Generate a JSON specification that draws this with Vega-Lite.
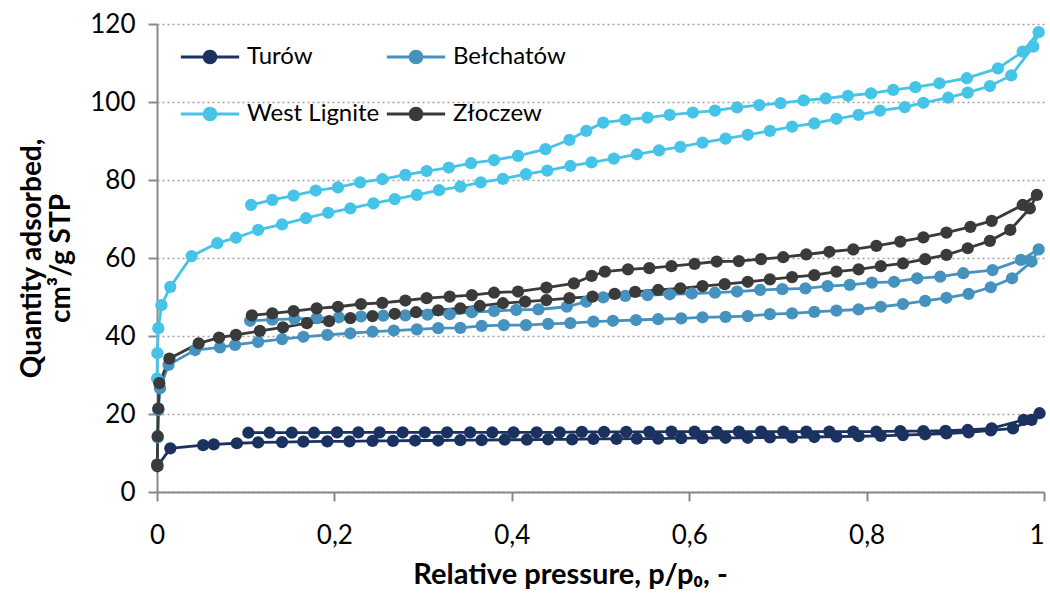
{
  "$schema": "https://vega.github.io/schema/vega-lite/v6.json",
  "autosize": {"type": "none"},
  "width": 887,
  "height": 468,
  "padding": {"left": 157, "top": 24, "right": 6, "bottom": 101},
  "background": "white",
  "config": {
    "view": {"stroke": null},
    "font": "Lato"
  },
  "datasets": {
    "raw": [
      {"s":"Turów","i":1,"x":0.0005,"y":6.6},{"s":"Turów","i":2,"x":0.015,"y":11.2},{"s":"Turów","i":3,"x":0.052,"y":12.0},{"s":"Turów","i":4,"x":0.064,"y":12.2},{"s":"Turów","i":5,"x":0.09,"y":12.5},{"s":"Turów","i":6,"x":0.114,"y":12.7},{"s":"Turów","i":7,"x":0.141,"y":12.8},{"s":"Turów","i":8,"x":0.165,"y":12.9},{"s":"Turów","i":9,"x":0.192,"y":13.0},{"s":"Turów","i":10,"x":0.217,"y":13.0},{"s":"Turów","i":11,"x":0.243,"y":13.1},{"s":"Turów","i":12,"x":0.266,"y":13.1},{"s":"Turów","i":13,"x":0.291,"y":13.2},{"s":"Turów","i":14,"x":0.317,"y":13.2},{"s":"Turów","i":15,"x":0.342,"y":13.3},{"s":"Turów","i":16,"x":0.366,"y":13.3},{"s":"Turów","i":17,"x":0.392,"y":13.4},{"s":"Turów","i":18,"x":0.417,"y":13.4},{"s":"Turów","i":19,"x":0.441,"y":13.5},{"s":"Turów","i":20,"x":0.468,"y":13.5},{"s":"Turów","i":21,"x":0.492,"y":13.6},{"s":"Turów","i":22,"x":0.518,"y":13.6},{"s":"Turów","i":23,"x":0.541,"y":13.7},{"s":"Turów","i":24,"x":0.565,"y":13.7},{"s":"Turów","i":25,"x":0.591,"y":13.8},{"s":"Turów","i":26,"x":0.615,"y":13.8},{"s":"Turów","i":27,"x":0.641,"y":13.9},{"s":"Turów","i":28,"x":0.666,"y":13.9},{"s":"Turów","i":29,"x":0.691,"y":14.0},{"s":"Turów","i":30,"x":0.716,"y":14.0},{"s":"Turów","i":31,"x":0.741,"y":14.1},{"s":"Turów","i":32,"x":0.766,"y":14.2},{"s":"Turów","i":33,"x":0.791,"y":14.3},{"s":"Turów","i":34,"x":0.816,"y":14.4},{"s":"Turów","i":35,"x":0.841,"y":14.6},{"s":"Turów","i":36,"x":0.866,"y":14.8},{"s":"Turów","i":37,"x":0.890,"y":15.0},{"s":"Turów","i":38,"x":0.915,"y":15.3},{"s":"Turów","i":39,"x":0.940,"y":15.8},{"s":"Turów","i":40,"x":0.965,"y":16.3},{"s":"Turów","i":41,"x":0.986,"y":18.5},{"s":"Turów","i":42,"x":0.995,"y":20.2},
      {"s":"Turów","i":43,"x":0.977,"y":18.5},{"s":"Turów","i":44,"x":0.941,"y":16.3},{"s":"Turów","i":45,"x":0.914,"y":15.9},{"s":"Turów","i":46,"x":0.889,"y":15.7},{"s":"Turów","i":47,"x":0.864,"y":15.6},{"s":"Turów","i":48,"x":0.838,"y":15.6},{"s":"Turów","i":49,"x":0.811,"y":15.5},{"s":"Turów","i":50,"x":0.785,"y":15.5},{"s":"Turów","i":51,"x":0.758,"y":15.5},{"s":"Turów","i":52,"x":0.732,"y":15.5},{"s":"Turów","i":53,"x":0.706,"y":15.5},{"s":"Turów","i":54,"x":0.681,"y":15.5},{"s":"Turów","i":55,"x":0.656,"y":15.5},{"s":"Turów","i":56,"x":0.631,"y":15.5},{"s":"Turów","i":57,"x":0.606,"y":15.5},{"s":"Turów","i":58,"x":0.580,"y":15.5},{"s":"Turów","i":59,"x":0.555,"y":15.4},{"s":"Turów","i":60,"x":0.529,"y":15.4},{"s":"Turów","i":61,"x":0.504,"y":15.4},{"s":"Turów","i":62,"x":0.479,"y":15.4},{"s":"Turów","i":63,"x":0.454,"y":15.3},{"s":"Turów","i":64,"x":0.428,"y":15.3},{"s":"Turów","i":65,"x":0.402,"y":15.3},{"s":"Turów","i":66,"x":0.378,"y":15.3},{"s":"Turów","i":67,"x":0.353,"y":15.3},{"s":"Turów","i":68,"x":0.327,"y":15.3},{"s":"Turów","i":69,"x":0.302,"y":15.3},{"s":"Turów","i":70,"x":0.277,"y":15.3},{"s":"Turów","i":71,"x":0.251,"y":15.3},{"s":"Turów","i":72,"x":0.227,"y":15.3},{"s":"Turów","i":73,"x":0.203,"y":15.3},{"s":"Turów","i":74,"x":0.177,"y":15.2},{"s":"Turów","i":75,"x":0.152,"y":15.2},{"s":"Turów","i":76,"x":0.127,"y":15.2},{"s":"Turów","i":77,"x":0.103,"y":15.2},

      {"s":"Bełchatów","i":1,"x":0.0003,"y":7.0},{"s":"Bełchatów","i":2,"x":0.0008,"y":14.0},{"s":"Bełchatów","i":3,"x":0.0015,"y":21.0},{"s":"Bełchatów","i":4,"x":0.0034,"y":26.6},{"s":"Bełchatów","i":5,"x":0.013,"y":32.6},{"s":"Bełchatów","i":6,"x":0.043,"y":36.4},{"s":"Bełchatów","i":7,"x":0.071,"y":37.1},{"s":"Bełchatów","i":8,"x":0.088,"y":37.7},{"s":"Bełchatów","i":9,"x":0.114,"y":38.5},{"s":"Bełchatów","i":10,"x":0.141,"y":39.2},{"s":"Bełchatów","i":11,"x":0.165,"y":39.8},{"s":"Bełchatów","i":12,"x":0.192,"y":40.3},{"s":"Bełchatów","i":13,"x":0.218,"y":40.7},{"s":"Bełchatów","i":14,"x":0.243,"y":41.1},{"s":"Bełchatów","i":15,"x":0.267,"y":41.4},{"s":"Bełchatów","i":16,"x":0.293,"y":41.7},{"s":"Bełchatów","i":17,"x":0.317,"y":42.0},{"s":"Bełchatów","i":18,"x":0.342,"y":42.1},{"s":"Bełchatów","i":19,"x":0.366,"y":42.6},{"s":"Bełchatów","i":20,"x":0.391,"y":42.8},{"s":"Bełchatów","i":21,"x":0.416,"y":42.8},{"s":"Bełchatów","i":22,"x":0.441,"y":43.1},{"s":"Bełchatów","i":23,"x":0.466,"y":43.3},{"s":"Bełchatów","i":24,"x":0.492,"y":43.7},{"s":"Bełchatów","i":25,"x":0.514,"y":43.9},{"s":"Bełchatów","i":26,"x":0.540,"y":44.1},{"s":"Bełchatów","i":27,"x":0.565,"y":44.3},{"s":"Bełchatów","i":28,"x":0.591,"y":44.5},{"s":"Bełchatów","i":29,"x":0.615,"y":44.8},{"s":"Bełchatów","i":30,"x":0.641,"y":44.9},{"s":"Bełchatów","i":31,"x":0.666,"y":45.1},{"s":"Bełchatów","i":32,"x":0.691,"y":45.6},{"s":"Bełchatów","i":33,"x":0.716,"y":45.8},{"s":"Bełchatów","i":34,"x":0.741,"y":46.2},{"s":"Bełchatów","i":35,"x":0.766,"y":46.5},{"s":"Bełchatów","i":36,"x":0.791,"y":46.8},{"s":"Bełchatów","i":37,"x":0.816,"y":47.5},{"s":"Bełchatów","i":38,"x":0.841,"y":48.2},{"s":"Bełchatów","i":39,"x":0.866,"y":49.0},{"s":"Bełchatów","i":40,"x":0.890,"y":49.8},{"s":"Bełchatów","i":41,"x":0.915,"y":50.8},{"s":"Bełchatów","i":42,"x":0.940,"y":52.5},{"s":"Bełchatów","i":43,"x":0.964,"y":54.8},{"s":"Bełchatów","i":44,"x":0.986,"y":59.1},{"s":"Bełchatów","i":45,"x":0.994,"y":62.2},
      {"s":"Bełchatów","i":46,"x":0.974,"y":59.5},{"s":"Bełchatów","i":47,"x":0.942,"y":56.9},{"s":"Bełchatów","i":48,"x":0.909,"y":56.1},{"s":"Bełchatów","i":49,"x":0.883,"y":55.2},{"s":"Bełchatów","i":50,"x":0.857,"y":54.8},{"s":"Bełchatów","i":51,"x":0.831,"y":53.9},{"s":"Bełchatów","i":52,"x":0.806,"y":53.7},{"s":"Bełchatów","i":53,"x":0.781,"y":53.1},{"s":"Bełchatów","i":54,"x":0.756,"y":52.8},{"s":"Bełchatów","i":55,"x":0.731,"y":52.2},{"s":"Bełchatów","i":56,"x":0.705,"y":52.0},{"s":"Bełchatów","i":57,"x":0.680,"y":51.8},{"s":"Bełchatów","i":58,"x":0.654,"y":51.4},{"s":"Bełchatów","i":59,"x":0.629,"y":51.1},{"s":"Bełchatów","i":60,"x":0.603,"y":50.9},{"s":"Bełchatów","i":61,"x":0.578,"y":50.7},{"s":"Bełchatów","i":62,"x":0.553,"y":50.5},{"s":"Bełchatów","i":63,"x":0.528,"y":50.3},{"s":"Bełchatów","i":64,"x":0.503,"y":49.9},{"s":"Bełchatów","i":65,"x":0.484,"y":48.8},{"s":"Bełchatów","i":66,"x":0.462,"y":47.5},{"s":"Bełchatów","i":67,"x":0.43,"y":46.8},{"s":"Bełchatów","i":68,"x":0.405,"y":46.7},{"s":"Bełchatów","i":69,"x":0.38,"y":46.4},{"s":"Bełchatów","i":70,"x":0.355,"y":46.1},{"s":"Bełchatów","i":71,"x":0.33,"y":45.6},{"s":"Bełchatów","i":72,"x":0.305,"y":45.5},{"s":"Bełchatów","i":73,"x":0.28,"y":45.3},{"s":"Bełchatów","i":74,"x":0.255,"y":45.2},{"s":"Bełchatów","i":75,"x":0.23,"y":45.0},{"s":"Bełchatów","i":76,"x":0.205,"y":44.8},{"s":"Bełchatów","i":77,"x":0.18,"y":44.6},{"s":"Bełchatów","i":78,"x":0.155,"y":44.4},{"s":"Bełchatów","i":79,"x":0.13,"y":44.2},{"s":"Bełchatów","i":80,"x":0.105,"y":43.9},

      {"s":"West Lignite","i":1,"x":0.0001,"y":29.1},{"s":"West Lignite","i":2,"x":0.0004,"y":35.6},{"s":"West Lignite","i":3,"x":0.0015,"y":42.0},{"s":"West Lignite","i":4,"x":0.005,"y":47.9},{"s":"West Lignite","i":5,"x":0.015,"y":52.6},{"s":"West Lignite","i":6,"x":0.039,"y":60.5},{"s":"West Lignite","i":7,"x":0.068,"y":63.8},{"s":"West Lignite","i":8,"x":0.089,"y":65.2},{"s":"West Lignite","i":9,"x":0.114,"y":67.2},{"s":"West Lignite","i":10,"x":0.141,"y":68.6},{"s":"West Lignite","i":11,"x":0.168,"y":70.2},{"s":"West Lignite","i":12,"x":0.193,"y":71.6},{"s":"West Lignite","i":13,"x":0.218,"y":72.7},{"s":"West Lignite","i":14,"x":0.244,"y":74.0},{"s":"West Lignite","i":15,"x":0.268,"y":75.1},{"s":"West Lignite","i":16,"x":0.293,"y":76.2},{"s":"West Lignite","i":17,"x":0.318,"y":77.4},{"s":"West Lignite","i":18,"x":0.342,"y":78.3},{"s":"West Lignite","i":19,"x":0.365,"y":79.4},{"s":"West Lignite","i":20,"x":0.390,"y":80.3},{"s":"West Lignite","i":21,"x":0.416,"y":81.5},{"s":"West Lignite","i":22,"x":0.440,"y":82.4},{"s":"West Lignite","i":23,"x":0.466,"y":83.6},{"s":"West Lignite","i":24,"x":0.490,"y":84.5},{"s":"West Lignite","i":25,"x":0.515,"y":85.5},{"s":"West Lignite","i":26,"x":0.541,"y":86.6},{"s":"West Lignite","i":27,"x":0.566,"y":87.6},{"s":"West Lignite","i":28,"x":0.590,"y":88.5},{"s":"West Lignite","i":29,"x":0.615,"y":89.6},{"s":"West Lignite","i":30,"x":0.641,"y":90.6},{"s":"West Lignite","i":31,"x":0.666,"y":91.6},{"s":"West Lignite","i":32,"x":0.691,"y":92.6},{"s":"West Lignite","i":33,"x":0.716,"y":93.7},{"s":"West Lignite","i":34,"x":0.741,"y":94.5},{"s":"West Lignite","i":35,"x":0.766,"y":95.7},{"s":"West Lignite","i":36,"x":0.791,"y":96.7},{"s":"West Lignite","i":37,"x":0.815,"y":97.8},{"s":"West Lignite","i":38,"x":0.843,"y":98.7},{"s":"West Lignite","i":39,"x":0.864,"y":99.8},{"s":"West Lignite","i":40,"x":0.892,"y":101.1},{"s":"West Lignite","i":41,"x":0.914,"y":102.4},{"s":"West Lignite","i":42,"x":0.939,"y":104.1},{"s":"West Lignite","i":43,"x":0.963,"y":106.8},{"s":"West Lignite","i":44,"x":0.988,"y":114.2},{"s":"West Lignite","i":45,"x":0.994,"y":117.9},
      {"s":"West Lignite","i":46,"x":0.976,"y":112.9},{"s":"West Lignite","i":47,"x":0.948,"y":108.6},{"s":"West Lignite","i":48,"x":0.913,"y":106.1},{"s":"West Lignite","i":49,"x":0.882,"y":104.8},{"s":"West Lignite","i":50,"x":0.855,"y":103.8},{"s":"West Lignite","i":51,"x":0.830,"y":103.1},{"s":"West Lignite","i":52,"x":0.805,"y":102.2},{"s":"West Lignite","i":53,"x":0.779,"y":101.6},{"s":"West Lignite","i":54,"x":0.754,"y":100.9},{"s":"West Lignite","i":55,"x":0.729,"y":100.4},{"s":"West Lignite","i":56,"x":0.703,"y":99.7},{"s":"West Lignite","i":57,"x":0.679,"y":99.2},{"s":"West Lignite","i":58,"x":0.654,"y":98.6},{"s":"West Lignite","i":59,"x":0.629,"y":97.8},{"s":"West Lignite","i":60,"x":0.604,"y":97.3},{"s":"West Lignite","i":61,"x":0.578,"y":96.7},{"s":"West Lignite","i":62,"x":0.553,"y":96.0},{"s":"West Lignite","i":63,"x":0.528,"y":95.4},{"s":"West Lignite","i":64,"x":0.503,"y":94.7},{"s":"West Lignite","i":65,"x":0.484,"y":92.6},{"s":"West Lignite","i":66,"x":0.465,"y":90.3},{"s":"West Lignite","i":67,"x":0.438,"y":87.9},{"s":"West Lignite","i":68,"x":0.407,"y":86.2},{"s":"West Lignite","i":69,"x":0.380,"y":85.1},{"s":"West Lignite","i":70,"x":0.354,"y":84.3},{"s":"West Lignite","i":71,"x":0.329,"y":83.2},{"s":"West Lignite","i":72,"x":0.304,"y":82.3},{"s":"West Lignite","i":73,"x":0.280,"y":81.3},{"s":"West Lignite","i":74,"x":0.254,"y":80.2},{"s":"West Lignite","i":75,"x":0.229,"y":79.4},{"s":"West Lignite","i":76,"x":0.204,"y":78.1},{"s":"West Lignite","i":77,"x":0.179,"y":77.3},{"s":"West Lignite","i":78,"x":0.154,"y":76.0},{"s":"West Lignite","i":79,"x":0.130,"y":74.9},{"s":"West Lignite","i":80,"x":0.106,"y":73.6},

      {"s":"Złoczew","i":1,"x":0.0003,"y":7.0},{"s":"Złoczew","i":2,"x":0.0008,"y":14.3},{"s":"Złoczew","i":3,"x":0.0015,"y":21.4},{"s":"Złoczew","i":4,"x":0.0026,"y":27.9},{"s":"Złoczew","i":5,"x":0.014,"y":34.2},{"s":"Złoczew","i":6,"x":0.047,"y":38.1},{"s":"Złoczew","i":7,"x":0.070,"y":39.6},{"s":"Złoczew","i":8,"x":0.089,"y":40.3},{"s":"Złoczew","i":9,"x":0.116,"y":41.3},{"s":"Złoczew","i":10,"x":0.142,"y":42.2},{"s":"Złoczew","i":11,"x":0.169,"y":43.3},{"s":"Złoczew","i":12,"x":0.194,"y":43.8},{"s":"Złoczew","i":13,"x":0.218,"y":44.6},{"s":"Złoczew","i":14,"x":0.243,"y":45.1},{"s":"Złoczew","i":15,"x":0.268,"y":45.7},{"s":"Złoczew","i":16,"x":0.292,"y":46.1},{"s":"Złoczew","i":17,"x":0.317,"y":46.6},{"s":"Złoczew","i":18,"x":0.342,"y":47.1},{"s":"Złoczew","i":19,"x":0.364,"y":47.7},{"s":"Złoczew","i":20,"x":0.390,"y":48.4},{"s":"Złoczew","i":21,"x":0.415,"y":48.8},{"s":"Złoczew","i":22,"x":0.439,"y":49.2},{"s":"Złoczew","i":23,"x":0.465,"y":49.7},{"s":"Złoczew","i":24,"x":0.491,"y":50.1},{"s":"Złoczew","i":25,"x":0.516,"y":50.8},{"s":"Złoczew","i":26,"x":0.539,"y":51.3},{"s":"Złoczew","i":27,"x":0.565,"y":51.8},{"s":"Złoczew","i":28,"x":0.590,"y":52.2},{"s":"Złoczew","i":29,"x":0.615,"y":52.8},{"s":"Złoczew","i":30,"x":0.640,"y":53.3},{"s":"Złoczew","i":31,"x":0.666,"y":53.9},{"s":"Złoczew","i":32,"x":0.691,"y":54.5},{"s":"Złoczew","i":33,"x":0.716,"y":55.1},{"s":"Złoczew","i":34,"x":0.741,"y":55.6},{"s":"Złoczew","i":35,"x":0.766,"y":56.5},{"s":"Złoczew","i":36,"x":0.791,"y":57.1},{"s":"Złoczew","i":37,"x":0.816,"y":57.9},{"s":"Złoczew","i":38,"x":0.841,"y":58.6},{"s":"Złoczew","i":39,"x":0.866,"y":59.7},{"s":"Złoczew","i":40,"x":0.890,"y":60.8},{"s":"Złoczew","i":41,"x":0.914,"y":62.5},{"s":"Złoczew","i":42,"x":0.939,"y":64.4},{"s":"Złoczew","i":43,"x":0.962,"y":67.2},{"s":"Złoczew","i":44,"x":0.984,"y":72.7},{"s":"Złoczew","i":45,"x":0.992,"y":76.2},
      {"s":"Złoczew","i":46,"x":0.976,"y":73.6},{"s":"Złoczew","i":47,"x":0.941,"y":69.5},{"s":"Złoczew","i":48,"x":0.917,"y":68.0},{"s":"Złoczew","i":49,"x":0.890,"y":66.5},{"s":"Złoczew","i":50,"x":0.864,"y":65.3},{"s":"Złoczew","i":51,"x":0.838,"y":64.2},{"s":"Złoczew","i":52,"x":0.811,"y":63.1},{"s":"Złoczew","i":53,"x":0.785,"y":62.2},{"s":"Złoczew","i":54,"x":0.758,"y":61.6},{"s":"Złoczew","i":55,"x":0.732,"y":60.9},{"s":"Złoczew","i":56,"x":0.706,"y":60.2},{"s":"Złoczew","i":57,"x":0.681,"y":59.7},{"s":"Złoczew","i":58,"x":0.656,"y":59.2},{"s":"Złoczew","i":59,"x":0.631,"y":59.1},{"s":"Złoczew","i":60,"x":0.606,"y":58.5},{"s":"Złoczew","i":61,"x":0.580,"y":57.9},{"s":"Złoczew","i":62,"x":0.555,"y":57.4},{"s":"Złoczew","i":63,"x":0.531,"y":57.1},{"s":"Złoczew","i":64,"x":0.505,"y":56.5},{"s":"Złoczew","i":65,"x":0.490,"y":55.4},{"s":"Złoczew","i":66,"x":0.470,"y":53.5},{"s":"Złoczew","i":67,"x":0.439,"y":52.4},{"s":"Złoczew","i":68,"x":0.407,"y":51.4},{"s":"Złoczew","i":69,"x":0.380,"y":51.1},{"s":"Złoczew","i":70,"x":0.355,"y":50.5},{"s":"Złoczew","i":71,"x":0.330,"y":50.1},{"s":"Złoczew","i":72,"x":0.304,"y":49.7},{"s":"Złoczew","i":73,"x":0.280,"y":49.1},{"s":"Złoczew","i":74,"x":0.254,"y":48.5},{"s":"Złoczew","i":75,"x":0.230,"y":48.2},{"s":"Złoczew","i":76,"x":0.204,"y":47.5},{"s":"Złoczew","i":77,"x":0.180,"y":47.1},{"s":"Złoczew","i":78,"x":0.154,"y":46.4},{"s":"Złoczew","i":79,"x":0.130,"y":45.8},{"s":"Złoczew","i":80,"x":0.107,"y":45.3}
    ]
  },
  "data": {"name": "raw"},
  "encoding": {
    "x": {
      "field": "x", "type": "quantitative",
      "scale": {"domain": [0, 1], "nice": false, "zero": false},
      "axis": {
        "title": "Relative pressure, p/p₀, -",
        "titleX": 413,
        "values": [0, 0.2, 0.4, 0.6, 0.8, 1],
        "labelExpr": "replace(format(datum.value, '.1~f'), '.', ',')",
        "labelAlign": {"expr": "datum.value == 1 ? 'right' : 'center'"},
        "grid": false,
        "domainColor": "#898989", "domainWidth": 2,
        "tickColor": "#898989", "tickWidth": 2, "tickSize": 9,
        "labelFont": "Lato", "labelFontSize": 26, "labelColor": "#000000", "labelPadding": 21,
        "labelFlush": false,
        "titleFont": "Lato", "titleFontSize": 29, "titleFontWeight": "bold", "titleColor": "#000000", "titlePadding": 12
      }
    },
    "y": {
      "field": "y", "type": "quantitative",
      "scale": {"domain": [0, 120], "nice": false},
      "axis": {
        "title": ["Quantity adsorbed,", "cm³/g STP"],
        "values": [0, 20, 40, 60, 80, 100, 120],
        "grid": true, "gridColor": "#a0a0a0", "gridDash": [2, 3], "gridWidth": 1.5,
        "domainColor": "#898989", "domainWidth": 2,
        "tickColor": "#898989", "tickWidth": 2, "tickSize": 9,
        "labelFont": "Lato", "labelFontSize": 26, "labelColor": "#000000", "labelPadding": 13,
        "titleFont": "Lato", "titleFontSize": 28, "titleFontWeight": "bold", "titleColor": "#000000", "titlePadding": 14, "titleLineHeight": 29
      }
    },
    "color": {
      "field": "s", "type": "nominal",
      "scale": {
        "domain": ["Turów", "West Lignite", "Bełchatów", "Złoczew"],
        "range": ["#1b3260", "#45c4e8", "#4592bf", "#3a3a3a"]
      },
      "legend": {
        "orient": "none", "legendX": 22, "legendY": 2,
        "columns": 2, "title": null,
        "symbolType": "M-1,0L1,0M-0.2,0A0.2,0.2,0,1,0,0.2,0A0.2,0.2,0,1,0,-0.2,0Z",
        "symbolSize": 3400, "symbolStrokeWidth": 3,
        "labelFont": "Lato", "labelFontSize": 24, "labelColor": "#000000", "labelOffset": 6,
        "columnPadding": 0, "rowPadding": 14,
        "encode": {
          "symbols": {"update": {
            "stroke": {"scale": "color", "field": "value"},
            "fill": {"scale": "color", "field": "value"},
            "opacity": {"value": 1}
          }}
        }
      }
    }
  },
  "layer": [
    {
      "mark": {"type": "line", "strokeWidth": 2.8},
      "encoding": {"order": {"field": "i", "type": "quantitative"}}
    },
    {
      "mark": {"type": "circle", "size": 150, "opacity": 1}
    }
  ]
}
